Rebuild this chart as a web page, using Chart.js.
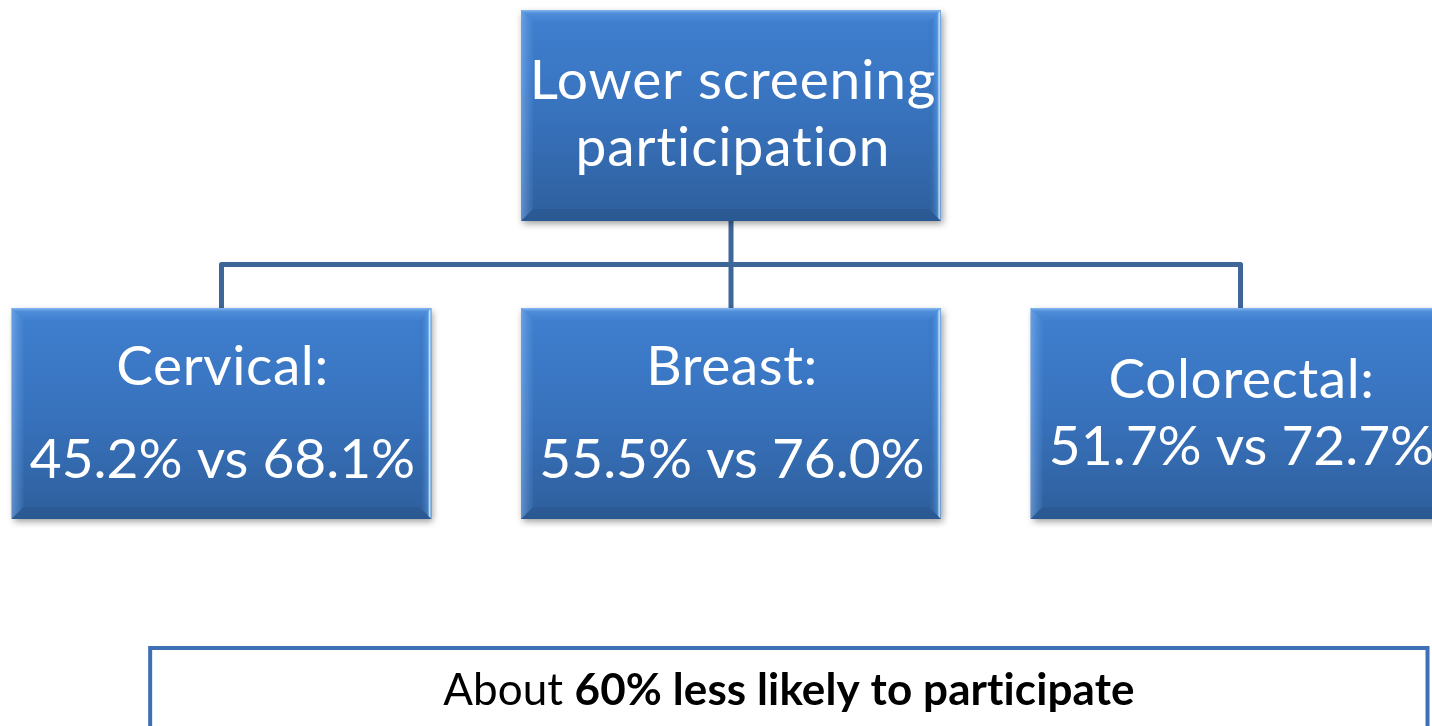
<!DOCTYPE html>
<html>
<head>
<meta charset="utf-8">
<script src="https://cdn.jsdelivr.net/npm/chart.js@4"></script>
<style>
  html, body { margin: 0; padding: 0; background: #ffffff; overflow: hidden; }
  #diagram { display: block; }
</style>
</head>
<body>
<canvas id="diagram" width="1432" height="726"></canvas>
<script>
// data
const rootLines = ["Lower screening", "participation"];
const screenTypes = ["Cervical", "Breast", "Colorectal"];
const groupRate = [45.2, 55.5, 51.7];
const otherRate = [68.1, 76.0, 72.7];
const noteLead = "About";
const noteBold = "60% less likely to participate";

// column index / tree level of each node
const nodeCols = [1, 0, 1, 2];
const nodeLevels = [0, 1, 1, 1];

const BOX_W = 0.824;     // in column units
const BOX_H = 211;       // px
const lineGap = [93, 93, 67];
const firstBase = [-28.5, -28.5, -15.5];
const FONT = "Lato, 'Open Sans', sans-serif";

function fmt(v) { return v.toFixed(1) + "%"; }

function bevelBox(ctx, l, t, r, b) {
  const d = 12;
  ctx.save();
  ctx.shadowColor = "rgba(0,0,0,0.4)";
  ctx.shadowBlur = 7;
  ctx.shadowOffsetX = 2;
  ctx.shadowOffsetY = 3;
  const g = ctx.createLinearGradient(0, t, 0, b);
  g.addColorStop(0, "#3f80d0");
  g.addColorStop(0.5, "#3872bd");
  g.addColorStop(1, "#2e5f9c");
  ctx.fillStyle = g;
  ctx.fillRect(l, t, r - l, b - t);
  ctx.restore();

  // top bevel
  ctx.beginPath();
  ctx.moveTo(l, t); ctx.lineTo(r, t); ctx.lineTo(r - d, t + d); ctx.lineTo(l + d, t + d); ctx.closePath();
  const gt = ctx.createLinearGradient(0, t, 0, t + d);
  gt.addColorStop(0, "rgba(170,210,255,0.7)");
  gt.addColorStop(0.3, "rgba(120,175,240,0.3)");
  gt.addColorStop(1, "rgba(90,150,225,0.1)");
  ctx.fillStyle = gt; ctx.fill();
  // left bevel
  ctx.beginPath();
  ctx.moveTo(l, t); ctx.lineTo(l + d, t + d); ctx.lineTo(l + d, b - d); ctx.lineTo(l, b); ctx.closePath();
  const gl = ctx.createLinearGradient(l, 0, l + d, 0);
  gl.addColorStop(0, "rgba(150,195,250,0.5)");
  gl.addColorStop(1, "rgba(100,160,230,0.1)");
  ctx.fillStyle = gl; ctx.fill();
  // bottom bevel
  ctx.beginPath();
  ctx.moveTo(l, b); ctx.lineTo(l + d, b - d); ctx.lineTo(r - d, b - d); ctx.lineTo(r, b); ctx.closePath();
  ctx.fillStyle = "rgba(20,50,95,0.14)"; ctx.fill();
  // right bevel
  ctx.beginPath();
  ctx.moveTo(r, t); ctx.lineTo(r, b); ctx.lineTo(r - d, b - d); ctx.lineTo(r - d, t + d); ctx.closePath();
  const gr = ctx.createLinearGradient(r - d, 0, r, 0);
  gr.addColorStop(0, "rgba(40,90,160,0.1)");
  gr.addColorStop(0.7, "rgba(120,190,255,0.35)");
  gr.addColorStop(0.85, "rgba(225,245,255,0.9)");
  gr.addColorStop(1, "rgba(120,180,240,0.6)");
  ctx.fillStyle = gr; ctx.fill();
}

const treePlugin = {
  id: "tree",
  afterDatasetsDraw(chart) {
    const ctx = chart.ctx;
    const xs = chart.scales.x, ys = chart.scales.y;
    const pts = chart.getDatasetMeta(0).data;
    const halfW = (xs.getPixelForValue(BOX_W) - xs.getPixelForValue(0)) / 2;
    const root = pts[0];
    const kids = pts.slice(1);

    // connectors
    const midY = (root.y + BOX_H / 2 + kids[0].y - BOX_H / 2) / 2;
    ctx.save();
    ctx.strokeStyle = "#3e6699";
    ctx.lineWidth = 5;
    ctx.lineJoin = "round";
    ctx.beginPath();
    ctx.moveTo(root.x, root.y + BOX_H / 2); ctx.lineTo(root.x, midY);
    ctx.moveTo(kids[0].x, kids[0].y - BOX_H / 2);
    ctx.lineTo(kids[0].x, midY);
    ctx.lineTo(kids[kids.length - 1].x, midY);
    ctx.lineTo(kids[kids.length - 1].x, kids[kids.length - 1].y - BOX_H / 2);
    kids.forEach(k => { ctx.moveTo(k.x, midY); ctx.lineTo(k.x, k.y - BOX_H / 2); });
    ctx.stroke();
    ctx.restore();

    // boxes
    pts.forEach(p => bevelBox(ctx, p.x - halfW, p.y - BOX_H / 2, p.x + halfW, p.y + BOX_H / 2));

    // labels
    ctx.save();
    ctx.fillStyle = "#ffffff";
    ctx.textAlign = "center";
    ctx.textBaseline = "alphabetic";
    ctx.font = "55px " + FONT;
    ctx.letterSpacing = "0.9px";
    ctx.fillText(rootLines[0], root.x + 2, root.y - 16.5);
    ctx.fillText(rootLines[1], root.x + 2, root.y + 50.5);
    kids.forEach((k, i) => {
      const b0 = k.y + firstBase[i];
      ctx.letterSpacing = "0.6px";
      ctx.fillText(screenTypes[i] + ":", k.x + 1, b0);
      ctx.letterSpacing = "0px";
      ctx.fillText(fmt(groupRate[i]) + " vs " + fmt(otherRate[i]), k.x + 1, b0 + lineGap[i]);
    });
    ctx.restore();

    // note box
    const nl = xs.getPixelForValue(-0.14), nr = xs.getPixelForValue(2.367);
    const nc = ys.getPixelForValue(1.9245);
    ctx.save();
    ctx.fillStyle = "#ffffff";
    ctx.strokeStyle = "#3f6fb5";
    ctx.lineWidth = 4;
    ctx.fillRect(nl, nc - 41, nr - nl, 82);
    ctx.strokeRect(nl, nc - 41, nr - nl, 82);
    ctx.fillStyle = "#000000";
    ctx.textBaseline = "alphabetic";
    ctx.textAlign = "left";
    ctx.letterSpacing = "0.1px";
    const fReg = "44px " + FONT, fBold = "bold 44px " + FONT;
    ctx.font = fReg;
    const w1 = ctx.measureText(noteLead + " ").width;
    ctx.font = fBold;
    const w2 = ctx.measureText(noteBold).width;
    const x0 = (nl + nr) / 2 - (w1 + w2) / 2;
    const base = nc + 16;
    ctx.font = fReg;
    ctx.fillText(noteLead + " ", x0, base);
    ctx.font = fBold;
    ctx.fillText(noteBold, x0 + w1, base);
    ctx.restore();
  }
};

new Chart(document.getElementById("diagram"), {
  type: "scatter",
  data: {
    datasets: [{
      label: "nodes",
      data: nodeCols.map((c, i) => ({ x: c, y: nodeLevels[i] })),
      pointRadius: 0,
      pointHoverRadius: 0
    }]
  },
  options: {
    responsive: false,
    animation: false,
    layout: { padding: 0 },
    plugins: { legend: { display: false }, tooltip: { enabled: false } },
    events: [],
    scales: {
      x: { type: "linear", display: false, min: -0.4347, max: 2.3758 },
      y: { type: "linear", display: false, reverse: true, min: -0.3876, max: 2.0487 }
    }
  },
  plugins: [treePlugin]
});
</script>
</body>
</html>
